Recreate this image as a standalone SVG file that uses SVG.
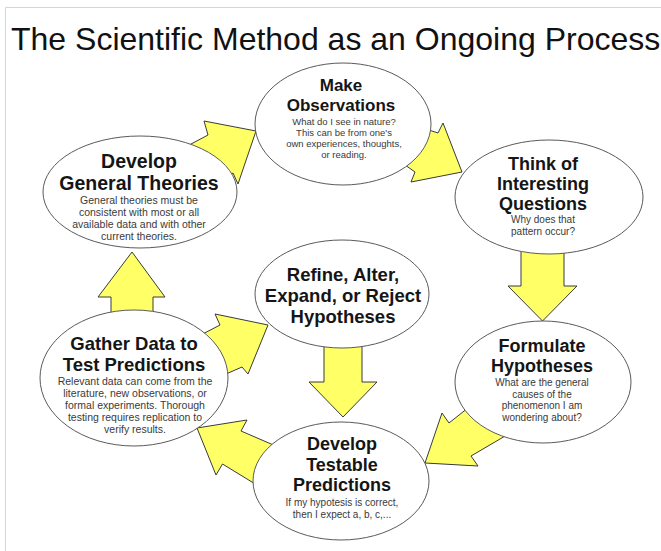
<svg xmlns="http://www.w3.org/2000/svg" width="661" height="551" viewBox="0 0 661 551">
<style>
.arrow{fill:#FFFF66;stroke:#3a3a3a;stroke-width:1;stroke-linejoin:miter}
.node ellipse{fill:#fff;stroke:#5a5a5a;stroke-width:1}
.h{font-family:"Liberation Sans",Arial,sans-serif;font-weight:bold;fill:#151515;text-anchor:middle}
.s{font-family:"Liberation Sans",Arial,sans-serif;fill:#3a3a3a;text-anchor:middle}
.frame{stroke:#d4d4d4;stroke-width:1;fill:none}
</style>
<rect width="661" height="551" fill="#fff"/>
<path class="frame" d="M5.5,551 V7.5 H661"/>
<text x="11" y="50" font-family="'Liberation Sans',Arial,sans-serif" font-size="32" fill="#111">The Scientific Method as an Ongoing Process</text>

<g id="connectors">
<polygon class="arrow" points="176,152 208,135 204,121 256,131 238,184 233,173 218,183"/>
<polygon class="arrow" points="420,127 438,133 443,123 462,172 411,182 415,172 398,160"/>
<polygon class="arrow" points="521,240 564,240 564,286 577,286 542.5,321 508,286 521,286"/>
<polygon class="arrow" points="478,400 449,423 442,413 425,463 478,466 471,456 512,432"/>
<polygon class="arrow" points="324,335 362,335 362,382 377,382 343,417 309,382 324,382"/>
<polygon class="arrow" points="285,450 241,431 247,420 197,428 216,475 222.5,464 265,490"/>
<polygon class="arrow" points="111,318 153,318 153,297 165,297 132,252 98,297 111,297"/>
<polygon class="arrow" points="195,338 220,325 215,314 268,325 248,374 242,367 210,381"/>
</g>

<g id="make-observations" class="node">
<ellipse cx="343" cy="124" rx="88" ry="61"/>
<text class="h" x="341" y="91" font-size="17">Make</text>
<text class="h" x="341" y="111" font-size="17">Observations</text>
<text class="s" x="344" y="125" font-size="9.5">What do I see in nature?</text>
<text class="s" x="344" y="136" font-size="9.5">This can be from one's</text>
<text class="s" x="344" y="147" font-size="9.5">own experiences, thoughts,</text>
<text class="s" x="344" y="158" font-size="9.5">or reading.</text>
</g>

<g id="develop-theories" class="node">
<ellipse cx="140" cy="192" rx="97" ry="56"/>
<text class="h" x="139" y="168" font-size="19.5">Develop</text>
<text class="h" x="139" y="190" font-size="19.5">General Theories</text>
<text class="s" x="139" y="204" font-size="10.5">General theories must be</text>
<text class="s" x="139" y="216" font-size="10.5">consistent with most or all</text>
<text class="s" x="139" y="228" font-size="10.5">available data and with other</text>
<text class="s" x="139" y="240" font-size="10.5">current theories.</text>
</g>

<g id="think-questions" class="node">
<ellipse cx="549" cy="197" rx="94" ry="57"/>
<text class="h" x="543" y="170" font-size="18">Think of</text>
<text class="h" x="543" y="190" font-size="18">Interesting</text>
<text class="h" x="543" y="210" font-size="18">Questions</text>
<text class="s" x="543" y="223" font-size="10">Why does that</text>
<text class="s" x="543" y="234.5" font-size="10">pattern occur?</text>
</g>

<g id="refine-hypotheses" class="node">
<ellipse cx="342" cy="294" rx="87" ry="54"/>
<text class="h" x="343" y="281" font-size="18.5">Refine, Alter,</text>
<text class="h" x="343" y="302" font-size="18.5">Expand, or Reject</text>
<text class="h" x="343" y="323" font-size="18.5">Hypotheses</text>
</g>

<g id="gather-data" class="node">
<ellipse cx="134" cy="378" rx="94" ry="68"/>
<text class="h" x="134" y="350" font-size="18.5">Gather Data to</text>
<text class="h" x="134" y="371" font-size="18.5">Test Predictions</text>
<text class="s" x="135" y="385" font-size="10.5">Relevant data can come from the</text>
<text class="s" x="135" y="397" font-size="10.5">literature, new observations, or</text>
<text class="s" x="135" y="409" font-size="10.5">formal experiments.  Thorough</text>
<text class="s" x="135" y="421" font-size="10.5">testing requires replication to</text>
<text class="s" x="135" y="433" font-size="10.5">verify results.</text>
</g>

<g id="formulate-hypotheses" class="node">
<ellipse cx="543" cy="382" rx="88" ry="61"/>
<text class="h" x="542" y="352" font-size="18">Formulate</text>
<text class="h" x="542" y="372" font-size="18">Hypotheses</text>
<text class="s" x="542" y="386" font-size="10">What are the general</text>
<text class="s" x="542" y="397.5" font-size="10">causes of the</text>
<text class="s" x="542" y="409" font-size="10">phenomenon I am</text>
<text class="s" x="542" y="420.5" font-size="10">wondering about?</text>
</g>

<g id="develop-predictions" class="node">
<ellipse cx="341" cy="481" rx="88" ry="59"/>
<text class="h" x="342" y="450" font-size="18">Develop</text>
<text class="h" x="342" y="470.5" font-size="18">Testable</text>
<text class="h" x="342" y="491" font-size="18">Predictions</text>
<text class="s" x="342" y="506" font-size="10">If my hypotesis is correct,</text>
<text class="s" x="342" y="517.5" font-size="10">then I expect a, b, c,...</text>
</g>
</svg>
